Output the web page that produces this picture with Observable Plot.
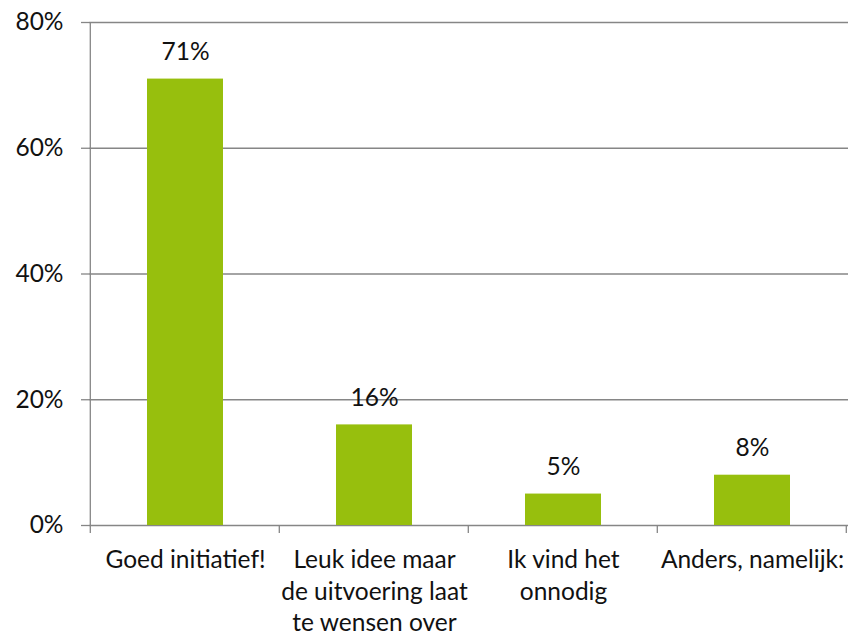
<!DOCTYPE html>
<html>
<head>
<meta charset="utf-8">
<script src="https://cdn.jsdelivr.net/npm/d3@7"></script>
<script src="https://cdn.jsdelivr.net/npm/@observablehq/plot@0.6"></script>
<style>
  html, body { margin: 0; padding: 0; background: #fff; }
  #chart svg { display: block; }
</style>
</head>
<body>
<div id="chart"></div>
<script>
const categories = ["Goed initiatief!", "Leuk idee maar de uitvoering laat te wensen over", "Ik vind het onnodig", "Anders, namelijk:"];
const tickLabels = ["Goed initiatief!", "Leuk idee maar\nde uitvoering laat\nte wensen over", "Ik vind het\nonnodig", "Anders, namelijk:"];
const values = [0.71, 0.16, 0.05, 0.08];
const yTicks = [0, 0.2, 0.4, 0.6, 0.8];

const data = categories.map((c, i) => ({category: c, value: values[i]}));
const labelOf = new Map(categories.map((c, i) => [c, tickLabels[i]]));

const GREEN = "#97BF0D";
const GRAY = "#868686";
const FONT = "Lato, 'Open Sans', sans-serif";
const FS = 24.5;

// Category boundary ticks and vertical axis line, drawn from the x scale
function frameTicks(index, scales, values, dims) {
  const g = d3.create("svg:g").attr("stroke", GRAY).attr("stroke-width", 1.3);
  const x0 = scales.x(categories[0]);
  const step = scales.x(categories[1]) - x0;
  const bottom = dims.height - dims.marginBottom;
  const bounds = categories.map(c => scales.x(c) - 0.3 * step);
  bounds.push(scales.x(categories[categories.length - 1]) + 0.7 * step);
  for (const b of bounds) {
    g.append("line").attr("x1", b).attr("x2", b).attr("y1", bottom).attr("y2", bottom + 8);
  }
  g.append("line").attr("x1", bounds[0]).attr("x2", bounds[0])
    .attr("y1", scales.y(yTicks[yTicks.length - 1])).attr("y2", bottom);
  return g.node();
}

const plot = Plot.plot({
  width: 852,
  height: 634,
  marginLeft: 89,
  marginRight: 4,
  marginTop: 22,
  marginBottom: 109,
  style: {fontFamily: FONT, fontSize: FS + "px", color: "#111", background: "#fff"},
  x: {domain: categories, paddingInner: 0.6, paddingOuter: 0.3, label: null},
  y: {domain: [0, 0.8], label: null},
  marks: [
    Plot.ruleY(yTicks, {stroke: GRAY, strokeWidth: 1.3}),
    Plot.barY(data, {x: "category", y: "value", fill: GREEN}),
    Plot.text(data, {x: "category", y: "value", text: d => Math.round(d.value * 100) + "%",
      dy: -27, lineAnchor: "middle", fill: "#111", fontSize: FS}),
    Plot.axisY({ticks: yTicks, tickFormat: d => Math.round(d * 100) + "%", tickSize: 8,
      tickPadding: 18, stroke: GRAY, strokeWidth: 1.3, fontSize: FS, label: null}),
    Plot.axisX({tickSize: 0, tickPadding: 20, tickFormat: d => labelOf.get(d),
      lineHeight: 1.29, fontSize: FS, label: null}),
    frameTicks
  ]
});
document.getElementById("chart").appendChild(plot);
</script>
</body>
</html>
